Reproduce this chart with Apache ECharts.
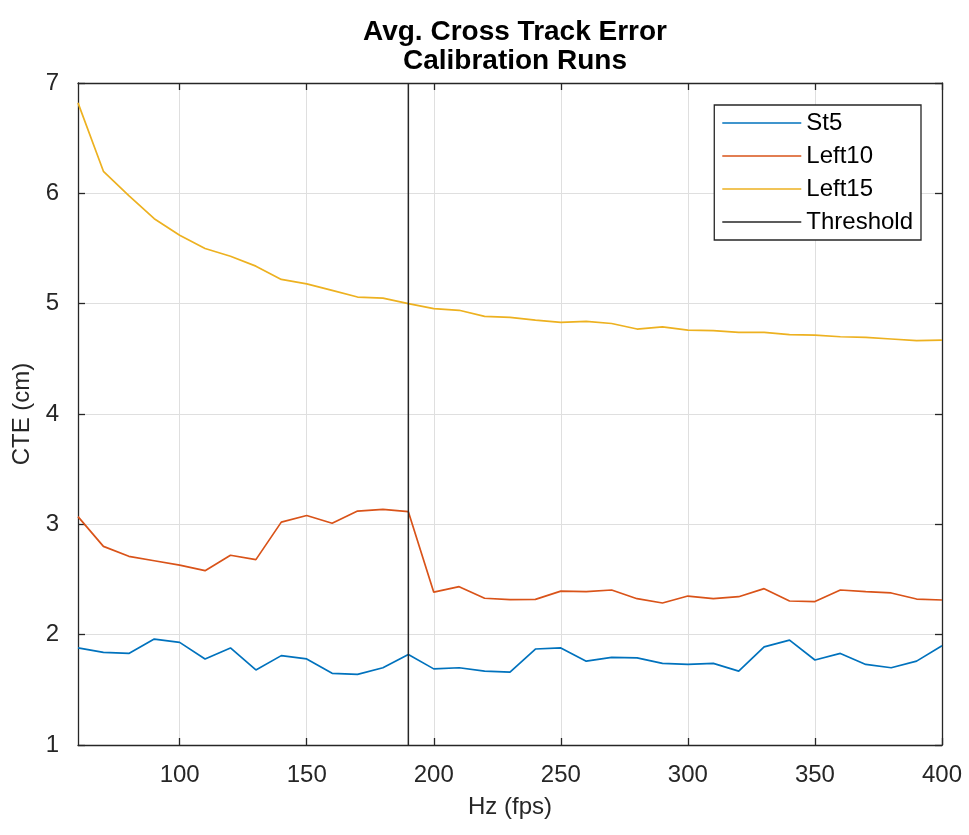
<!DOCTYPE html>
<html>
<head>
<meta charset="utf-8">
<script src="https://cdn.jsdelivr.net/npm/echarts@6/dist/echarts.min.js"></script>
<style>
  html, body { margin: 0; padding: 0; background: #ffffff; }
  #chart { width: 969px; height: 835px; }
</style>
</head>
<body>
<div id="chart"></div>
<script>
// Sampling rates of the calibration runs (Hz)
const hz = [60, 70, 80, 90, 100, 110, 120, 130, 140, 150, 160, 170, 180, 190,
            200, 210, 220, 230, 240, 250, 260, 270, 280, 290, 300, 310, 320,
            330, 340, 350, 360, 370, 380, 390, 400];

// Average cross track error per run (cm)
const st5 = [1.88, 1.84, 1.83, 1.96, 1.93, 1.78, 1.88, 1.68, 1.81, 1.78, 1.65, 1.64, 1.70, 1.82,
             1.69, 1.70, 1.67, 1.66, 1.87, 1.88, 1.76, 1.795, 1.79, 1.74, 1.73, 1.74, 1.67,
             1.89, 1.95, 1.77, 1.83, 1.73, 1.70, 1.76, 1.90];
const left10 = [3.07, 2.80, 2.71, 2.67, 2.63, 2.58, 2.72, 2.68, 3.02, 3.08, 3.01, 3.12, 3.135, 3.115,
                2.385, 2.435, 2.33, 2.317, 2.32, 2.395, 2.39, 2.405, 2.326, 2.287, 2.35, 2.326, 2.344,
                2.417, 2.305, 2.30, 2.405, 2.39, 2.378, 2.323, 2.314];
const left15 = [6.82, 6.20, 5.98, 5.77, 5.62, 5.50, 5.43, 5.34, 5.22, 5.18, 5.12, 5.06, 5.05, 5.00,
                4.955, 4.94, 4.885, 4.876, 4.85, 4.83, 4.84, 4.82, 4.77, 4.79, 4.76, 4.755, 4.74,
                4.74, 4.72, 4.715, 4.70, 4.695, 4.68, 4.665, 4.67];

// Threshold rate and the CTE span it is drawn across
const thresholdHz = 190;
const thresholdSpan = [1, 7];

// Axis ticks
const xTicks = [100, 150, 200, 250, 300, 350, 400];
const xRange = [60, 400];
const yRange = [1, 7];

const seriesNames = ['St5', 'Left10', 'Left15', 'Threshold'];
const seriesColors = ['#0072BD', '#D95319', '#EDB120', '#262626'];

const pair = (xs, ys) => xs.map((x, i) => [x, ys[i]]);

const FONT = '"Liberation Sans", Arial, Helvetica, sans-serif';
const INK = '#262626';

const chart = echarts.init(document.getElementById('chart'), null, { renderer: 'canvas' });

const axisCommon = {
  axisLine: { show: true, onZero: false, lineStyle: { color: INK, width: 1.3 } },
  axisTick: { show: true, inside: true, length: 7, lineStyle: { color: INK, width: 1.3 } }
};

chart.setOption({
  animation: false,
  backgroundColor: '#ffffff',
  textStyle: { fontFamily: FONT },
  title: {
    text: 'Avg. Cross Track Error\nCalibration Runs',
    left: 510,
    top: 13,
    textAlign: 'center',
    textStyle: { fontFamily: FONT, fontSize: 28, fontWeight: 'bold', color: '#000000', lineHeight: 29 }
  },
  grid: { left: 78, right: 27, top: 83, bottom: 90, containLabel: false },
  legend: {
    orient: 'vertical',
    right: 48,
    top: 105,
    data: seriesNames.map(n => ({ name: n, icon: 'rect' })),
    itemWidth: 79,
    itemHeight: 1.6,
    itemGap: 9,
    padding: [6, 8, 6, 8],
    borderColor: INK,
    borderWidth: 1.3,
    backgroundColor: '#ffffff',
    selectedMode: false,
    textStyle: { fontFamily: FONT, fontSize: 24, color: '#000000', lineHeight: 24 }
  },
  xAxis: [
    Object.assign({}, axisCommon, {
      type: 'value',
      position: 'bottom',
      min: xRange[0],
      max: xRange[1],
      name: 'Hz (fps)',
      nameLocation: 'middle',
      nameGap: 50,
      nameTextStyle: { fontFamily: FONT, fontSize: 24, color: INK },
      axisTick: Object.assign({}, axisCommon.axisTick, { customValues: xTicks }),
      axisLabel: { customValues: xTicks, fontFamily: FONT, fontSize: 24, color: INK, margin: 18 },
      splitLine: { show: true, lineStyle: { color: '#dfdfdf', width: 1 } }
    }),
    Object.assign({}, axisCommon, {
      type: 'value',
      position: 'top',
      min: xRange[0],
      max: xRange[1],
      axisTick: Object.assign({}, axisCommon.axisTick, { customValues: xTicks }),
      axisLabel: { show: false },
      splitLine: { show: false }
    })
  ],
  yAxis: [
    Object.assign({}, axisCommon, {
      type: 'value',
      position: 'left',
      min: yRange[0],
      max: yRange[1],
      interval: 1,
      name: 'CTE (cm)',
      nameLocation: 'middle',
      nameGap: 42,
      nameTextStyle: { fontFamily: FONT, fontSize: 24, color: INK },
      axisLabel: { fontFamily: FONT, fontSize: 24, color: INK, margin: 19 },
      splitLine: { show: true, lineStyle: { color: '#dfdfdf', width: 1 } }
    }),
    Object.assign({}, axisCommon, {
      type: 'value',
      position: 'right',
      min: yRange[0],
      max: yRange[1],
      interval: 1,
      axisLabel: { show: false },
      splitLine: { show: false }
    })
  ],
  series: [
    {
      name: seriesNames[0], type: 'line', data: pair(hz, st5),
      symbol: 'none', color: seriesColors[0], lineStyle: { width: 1.7 }, z: 3
    },
    {
      name: seriesNames[1], type: 'line', data: pair(hz, left10),
      symbol: 'none', color: seriesColors[1], lineStyle: { width: 1.7 }, z: 3
    },
    {
      name: seriesNames[2], type: 'line', data: pair(hz, left15),
      symbol: 'none', color: seriesColors[2], lineStyle: { width: 1.7 }, z: 3
    },
    {
      name: seriesNames[3], type: 'line',
      data: thresholdSpan.map(v => [thresholdHz, v]),
      symbol: 'none', color: seriesColors[3], lineStyle: { width: 1.5 }, z: 4
    }
  ]
});
</script>
</body>
</html>
